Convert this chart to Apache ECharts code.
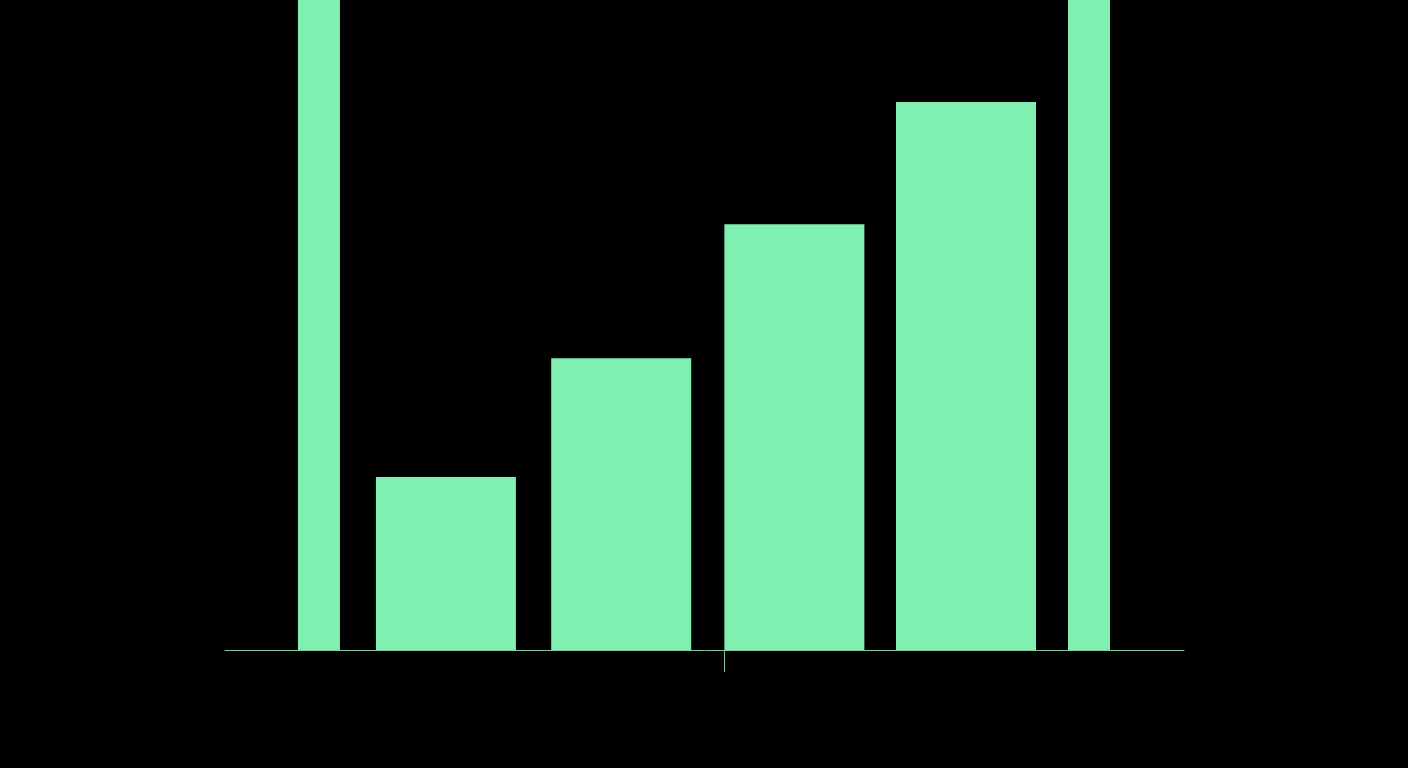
<!DOCTYPE html>
<html>
<head>
<meta charset="utf-8">
<script src="https://cdn.jsdelivr.net/npm/echarts@6/dist/echarts.min.js"></script>
<style>html,body{margin:0;padding:0;background:#000;}#c{width:1408px;height:768px;}</style>
</head>
<body>
<div id="c"></div>
<script>
// Data
const mainPositions = [1, 2.013, 3.014, 4.006];
const mainValues = [26.6, 44.9, 65.5, 84.3];
const sidePositions = [0.266, 4.717];
const sideValues = [100, 100];
const tickValues = [2.607];

const mainData = mainPositions.map((x, i) => [x, mainValues[i]]);
const sideData = sidePositions.map((x, i) => [x, sideValues[i]]);

const barColor = '#80efb2';
const axisColor = '#86c4a2';

const chart = echarts.init(document.getElementById('c'));
const xBase = {
  type: 'value', min: -0.277, max: 5.266,
  splitLine: { show: false }, axisLabel: { show: false }
};
chart.setOption({
  backgroundColor: '#000000',
  animation: false,
  grid: { left: 225, right: 224, top: 0, bottom: 118, containLabel: false },
  xAxis: [
    Object.assign({}, xBase, {
      axisLine: { show: true, onZero: false, lineStyle: { color: axisColor, width: 1 } },
      axisTick: { show: true, length: 22, customValues: tickValues, lineStyle: { color: axisColor, width: 1 } }
    }),
    Object.assign({}, xBase, {
      axisLine: { show: false }, axisTick: { show: false }
    })
  ],
  yAxis: {
    type: 'value', min: 0, max: 100,
    show: false, splitLine: { show: false }
  },
  series: [
    { type: 'bar', xAxisIndex: 1, data: sideData, barWidth: 42, itemStyle: { color: barColor }, z: 1 },
    { type: 'bar', xAxisIndex: 0, data: mainData, barWidth: 140, itemStyle: { color: barColor }, z: 1 }
  ]
});
</script>
</body>
</html>
